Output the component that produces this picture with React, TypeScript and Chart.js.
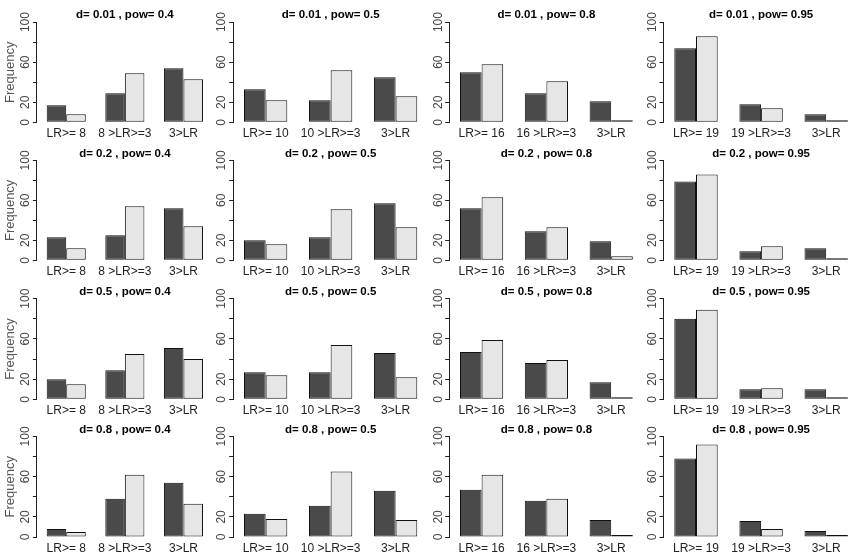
import React, { useEffect, useRef } from 'react';
import { Chart, registerables } from 'chart.js';

Chart.register(...registerables);

const effectSizes = ['0.01', '0.2', '0.5', '0.8'];
const powers = ['0.4', '0.5', '0.8', '0.95'];

const categoryLabels = [
  ['LR>= 8', '8 >LR>=3', '3>LR'],
  ['LR>= 10', '10 >LR>=3', '3>LR'],
  ['LR>= 16', '16 >LR>=3', '3>LR'],
  ['LR>= 19', '19 >LR>=3', '3>LR'],
];

// one triple per power (0.4, 0.5, 0.8, 0.95)
const darkD001 = [[17, 29, 54], [33, 22, 45], [50, 29, 21], [74, 18, 8]];
const lightD001 = [[8, 49, 43], [22, 52, 26], [58, 41, 1], [86, 14, 0]];
const darkD02 = [[23, 25, 52], [20, 23, 57], [52, 29, 19], [79, 9, 12]];
const lightD02 = [[12, 54, 34], [16, 51, 33], [63, 33, 4], [86, 14, 0]];
const darkD05 = [[20, 29, 51], [27, 27, 46], [47, 36, 17], [80, 10, 10]];
const lightD05 = [[15, 45, 40], [24, 54, 22], [59, 39, 2], [89, 11, 0]];
const darkD08 = [[8, 38, 54], [23, 31, 46], [47, 36, 17], [78, 16, 6]];
const lightD08 = [[5, 62, 33], [18, 65, 17], [62, 38, 0], [92, 8, 0]];

const darkSeries = [darkD001, darkD02, darkD05, darkD08];
const lightSeries = [lightD001, lightD02, lightD05, lightD08];

// tick marks at every 20, labels only where R had room for them
const yTicks = [0, 20, 40, 60, 80, 100];
const yTickLabels = ['0', '20', '', '60', '', '100'];

// panel geometry
const colFirstBar = [46.7, 244, 460, 674.3];
const colUnit = [19.54, 21.66, 21.6, 21.7];
const colCanvasLeft = [0, 204, 419, 633];
const rowTop100 = [21.7, 160, 298.3, 436];
const rowZero = [122.3, 260.3, 399.3, 537];
const TOP_SPACE = 18;
const X_AXIS_H = 20;

const FONT = "'Liberation Sans', Arial, sans-serif";

function Panel({ row, col }: { row: number; col: number }) {
  const ref = useRef<HTMLCanvasElement>(null);

  const u = colUnit[col];
  const chartLeft = colFirstBar[col] - u / 2;
  const chartRight = chartLeft + 9 * u;
  const canvasLeft = colCanvasLeft[col];
  const yAxisW = chartLeft - canvasLeft;
  const canvasW = Math.ceil(chartRight - canvasLeft);
  const canvasTop = Math.floor(rowTop100[row] - TOP_SPACE);
  const canvasH = Math.ceil(rowZero[row] + X_AXIS_H - canvasTop);
  const padTop = rowTop100[row] - TOP_SPACE - canvasTop;
  const padBottom = canvasH - (rowZero[row] + X_AXIS_H - canvasTop);
  const padRight = canvasW - (chartRight - canvasLeft);

  useEffect(() => {
    if (!ref.current) return;
    const chart = new Chart(ref.current, {
      type: 'bar',
      data: {
        labels: categoryLabels[col],
        datasets: [
          {
            data: darkSeries[row][col],
            backgroundColor: '#4a4a4a',
            borderColor: '#111111',
            borderWidth: 1,
            borderSkipped: false,
            minBarLength: 2,
          },
          {
            data: lightSeries[row][col],
            backgroundColor: '#e6e6e6',
            borderColor: '#111111',
            borderWidth: 1,
            borderSkipped: false,
            minBarLength: 2,
          },
        ],
      },
      options: {
        animation: false,
        responsive: true,
        maintainAspectRatio: false,
        categoryPercentage: 2 / 3,
        barPercentage: 1,
        layout: {
          padding: { top: padTop, bottom: padBottom, left: 0, right: padRight },
        },
        plugins: {
          legend: { display: false },
          tooltip: { enabled: false },
          title: {
            display: true,
            text: `d= ${effectSizes[row]} , pow= ${powers[col]}`,
            fullSize: false,
            color: '#000000',
            font: { family: FONT, size: 11.5, weight: 'bold', lineHeight: 1.2 },
            padding: { top: 4.6, bottom: 0 },
          },
        },
        scales: {
          x: {
            offset: true,
            grid: { display: false, drawTicks: false },
            border: { display: false },
            ticks: {
              color: '#222222',
              font: { family: FONT, size: 12 },
              padding: 4,
              autoSkip: false,
              maxRotation: 0,
              minRotation: 0,
            },
            afterFit: (scale: any) => {
              scale.height = X_AXIS_H;
            },
          },
          y: {
            min: 0,
            max: 100,
            afterBuildTicks: (scale: any) => {
              scale.ticks = yTicks.map((v) => ({ value: v }));
            },
            grid: {
              display: true,
              drawOnChartArea: false,
              drawTicks: true,
              tickLength: 4,
              tickColor: '#222222',
              tickWidth: 1,
            },
            border: { display: true, color: '#222222', width: 1 },
            ticks: {
              color: '#444444',
              font: { family: FONT, size: 12 },
              autoSkip: false,
              minRotation: 90,
              maxRotation: 90,
              crossAlign: 'center',
              padding: -3,
              callback: (_value: any, index: number) => yTickLabels[index],
            },
            title: {
              display: col === 0,
              text: 'Frequency',
              color: '#555555',
              font: { family: FONT, size: 13 },
              padding: { top: 2.2, bottom: 0 },
            },
            afterFit: (scale: any) => {
              scale.width = yAxisW;
            },
          },
        },
      },
    });
    return () => chart.destroy();
  }, []);

  return (
    <div
      style={{
        position: 'absolute',
        left: canvasLeft,
        top: canvasTop,
        width: canvasW,
        height: canvasH,
      }}
    >
      <canvas ref={ref}></canvas>
    </div>
  );
}

export default function App() {
  const panels = [];
  for (let r = 0; r < 4; r++) {
    for (let c = 0; c < 4; c++) {
      panels.push(<Panel key={`${r}-${c}`} row={r} col={c} />);
    }
  }
  return (
    <div
      style={{
        position: 'fixed',
        left: 0,
        top: 0,
        width: 856,
        height: 559,
        overflow: 'hidden',
        background: '#ffffff',
      }}
    >
      {panels}
    </div>
  );
}
